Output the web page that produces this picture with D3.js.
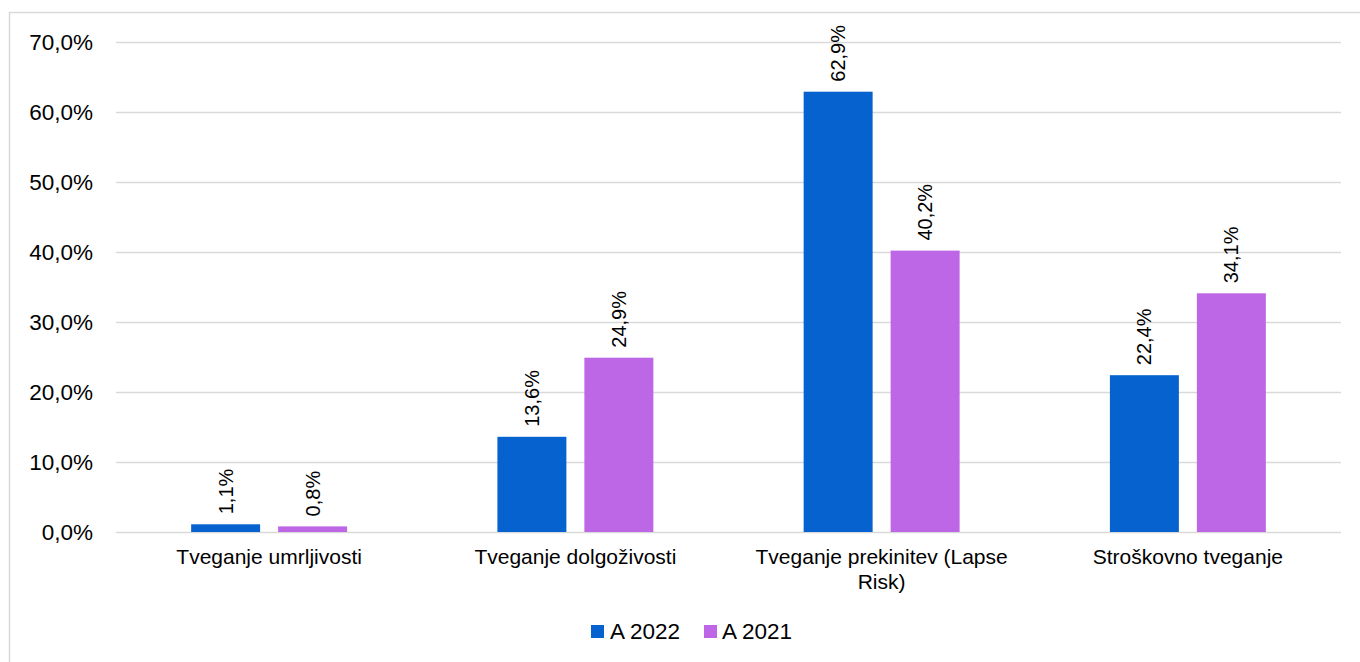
<!DOCTYPE html>
<html>
<head>
<meta charset="utf-8">
<script src="https://cdn.jsdelivr.net/npm/d3@7/dist/d3.min.js"></script>
<style>
  html, body { margin: 0; padding: 0; background: #fff; }
  svg { display: block; font-family: "Liberation Sans", Arial, sans-serif; }
</style>
</head>
<body>
<svg id="chart" width="1360" height="662"></svg>
<script>
const categories = ["Tveganje umrljivosti", "Tveganje dolgoživosti", "Tveganje prekinitev (Lapse Risk)", "Stroškovno tveganje"];
const seriesNames = ["A 2022", "A 2021"];
const values2022 = [1.1, 13.6, 62.9, 22.4];
const values2021 = [0.8, 24.9, 40.2, 34.1];
const yTicks = [0, 10, 20, 30, 40, 50, 60, 70];
const seriesColors = ["#0562CE", "#BD66E6"];

const svg = d3.select("#chart");
const W = 1360, H = 662;
const plot = { left: 116, right: 1341, top: 42, bottom: 532 };

// outer chart frame
svg.append("rect")
  .attr("x", 9.5).attr("y", 12.5)
  .attr("width", W).attr("height", H)
  .attr("fill", "none").attr("stroke", "#d9d9d9").attr("stroke-width", 1.5);

const x = d3.scaleBand().domain(categories).range([plot.left, plot.right]).padding(0);
const xInner = d3.scaleBand().domain(seriesNames).range([0, x.bandwidth()])
  .paddingInner(0.207).paddingOuter(0.864);
const y = d3.scaleLinear().domain([0, 70]).range([plot.bottom, plot.top]);

const fmt = v => d3.format(".1f")(v).replace(".", ",") + "%";

// gridlines and y tick labels
const yAxis = d3.axisLeft(y).tickValues(yTicks).tickFormat(fmt)
  .tickSize(-(plot.right - plot.left)).tickPadding(23);
const gy = svg.append("g").attr("transform", `translate(${plot.left},0)`).call(yAxis);
gy.select(".domain").remove();
gy.selectAll(".tick line").attr("stroke", "#d9d9d9").attr("stroke-width", 1.5);
gy.selectAll(".tick text").attr("fill", "#000").attr("font-size", 22.5)
  .attr("font-family", "Liberation Sans, Arial, sans-serif");

const rows = categories.map((c, i) => ({ cat: c, vals: [values2022[i], values2021[i]] }));

const groups = svg.append("g").selectAll("g").data(rows).join("g")
  .attr("transform", d => `translate(${x(d.cat)},0)`);

groups.selectAll("rect").data(d => d.vals.map((v, k) => ({ s: seriesNames[k], v, k })))
  .join("rect")
  .attr("x", d => xInner(d.s))
  .attr("y", d => y(d.v))
  .attr("width", xInner.bandwidth())
  .attr("height", d => y(0) - y(d.v))
  .attr("fill", d => seriesColors[d.k]);

// value labels, rotated
groups.selectAll("text.val").data(d => d.vals.map((v, k) => ({ s: seriesNames[k], v, k })))
  .join("text").attr("class", "val")
  .attr("transform", d => `translate(${xInner(d.s) + xInner.bandwidth() / 2},${y(d.v) - 10}) rotate(-90)`)
  .attr("dy", "0.35em")
  .attr("text-anchor", "start")
  .attr("font-size", 20)
  .attr("fill", "#000")
  .text(d => fmt(d.v));

// category labels (wrapped)
const catLines = {
  "Tveganje prekinitev (Lapse Risk)": ["Tveganje prekinitev (Lapse", "Risk)"]
};
svg.append("g").selectAll("text").data(categories).join("text")
  .attr("x", d => x(d) + x.bandwidth() / 2)
  .attr("y", 564)
  .attr("text-anchor", "middle")
  .attr("font-size", 21)
  .attr("fill", "#000")
  .each(function (d) {
    const lines = catLines[d] || [d];
    d3.select(this).selectAll("tspan").data(lines).join("tspan")
      .attr("x", x(d) + x.bandwidth() / 2)
      .attr("dy", (l, i) => i === 0 ? 0 : 25)
      .text(l => l);
  });

// legend
const legendItems = [
  { name: seriesNames[0], color: seriesColors[0], sx: 591, tx: 610 },
  { name: seriesNames[1], color: seriesColors[1], sx: 704, tx: 722 }
];
const lg = svg.append("g");
lg.selectAll("rect").data(legendItems).join("rect")
  .attr("x", d => d.sx).attr("y", 625).attr("width", 13).attr("height", 13)
  .attr("fill", d => d.color);
lg.selectAll("text").data(legendItems).join("text")
  .attr("x", d => d.tx).attr("y", 639)
  .attr("font-size", 22.5).attr("fill", "#000")
  .text(d => d.name);
</script>
</body>
</html>
